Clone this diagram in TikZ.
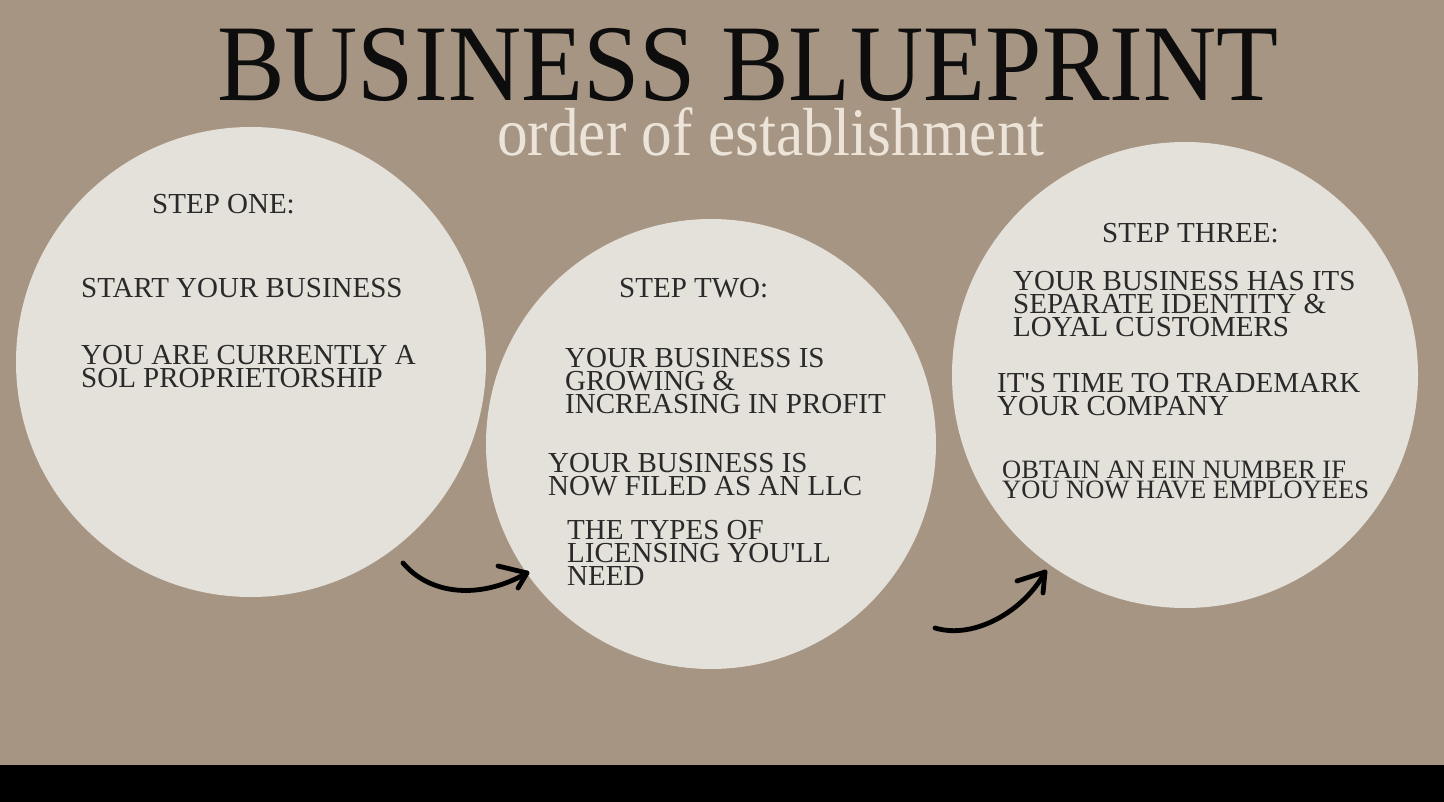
\documentclass[tikz,border=0pt]{standalone}
\usepackage{fontspec}
\setmainfont{Liberation Serif}
\newfontfamily\titlefont[FakeStretch=0.93]{Liberation Serif}
\newfontfamily\subfont[FakeStretch=0.9]{Liberation Serif}
\usetikzlibrary{positioning}
\definecolor{taupe}{HTML}{A69583}
\definecolor{shell}{HTML}{E4E0DA}
\definecolor{ink}{HTML}{2A2A2A}
\definecolor{cream}{HTML}{ECE4D8}

\begin{document}
\begin{tikzpicture}[x=1pt,y=-1pt,
	disc/.style={circle,fill=shell,inner sep=0pt},
	steptext/.style={anchor=north west,align=left,inner sep=0pt,text=ink,font=\fontsize{29}{23}\selectfont},
	smalltext/.style={steptext,font=\fontsize{26.5}{20.5}\selectfont},
	squiggle/.style={line width=4.8pt,line cap=round,line join=round}]
			\fill[taupe] (0,0) rectangle (1444,802);
			\fill[black] (0,765) rectangle (1444,802);
			\useasboundingbox (0,0) rectangle (1444,802);

			\node[anchor=base,inner sep=0pt,text=black!95,font=\titlefont\fontsize{109}{109}\selectfont] (title) at (748,101) {BUSINESS BLUEPRINT};
			\node[anchor=base,inner sep=0pt,text=cream,font=\subfont\fontsize{68}{68}\selectfont] (subtitle) at (771,156) {order of establishment};

			\foreach \n/\x/\y/\d in {one/251/362/470, two/711/444/450, three/1185/375/466}
				\node[disc,minimum size=\d] (\n) at (\x,\y) {};

			% step one
			\node[steptext] (s1) at (152,194.5) {STEP ONE:};
			\node[steptext] (s1a) at (81,278.5) {START YOUR BUSINESS};
			\node[steptext] (s1b) at (81,345.5) {YOU ARE CURRENTLY A\\SOL PROPRIETORSHIP};

			% step two
			\node[steptext] (s2) at (619,278.5) {STEP TWO:};
			\node[steptext] (s2a) at (565,348.5) {YOUR BUSINESS IS\\GROWING \&\\INCREASING IN PROFIT};
			\node[steptext] (s2b) at (548,453.5) {YOUR BUSINESS IS\\NOW FILED AS AN LLC};
			\node[steptext] (s2c) at (567,520.5) {THE TYPES OF\\LICENSING YOU\textquotesingle LL\\NEED};

			% step three
			\node[steptext] (s3) at (1102,223.5) {STEP THREE:};
			\node[steptext] (s3a) at (1013,271.5) {YOUR BUSINESS HAS ITS\\SEPARATE IDENTITY \&\\LOYAL CUSTOMERS};
			\node[steptext] (s3b) at (997,373.5) {IT\textquotesingle S TIME TO TRADEMARK\\YOUR COMPANY};
			\node[smalltext] (s3c) at (1002,460.5) {OBTAIN AN EIN NUMBER IF\\YOU NOW HAVE EMPLOYEES};

			% arrows
			\coordinate (a1) at (403,563);
			\coordinate (h1) at (527,573);
			\coordinate (h1u) at (498,566);
			\coordinate (h1l) at (518,588);
			\draw[squiggle] (a1) .. controls (430,595) and (480,600) .. (h1);
			\draw[squiggle] (h1u) -- (h1) -- (h1l);

			\coordinate (a2) at (935,628);
			\coordinate (h2) at (1045,572);
			\coordinate (h2u) at (1017,581);
			\coordinate (h2l) at (1043,593);
			\draw[squiggle] (a2) .. controls (975,640) and (1025,610) .. (h2);
			\draw[squiggle] (h2u) -- (h2) -- (h2l);
		    \end{tikzpicture}
\end{document}
